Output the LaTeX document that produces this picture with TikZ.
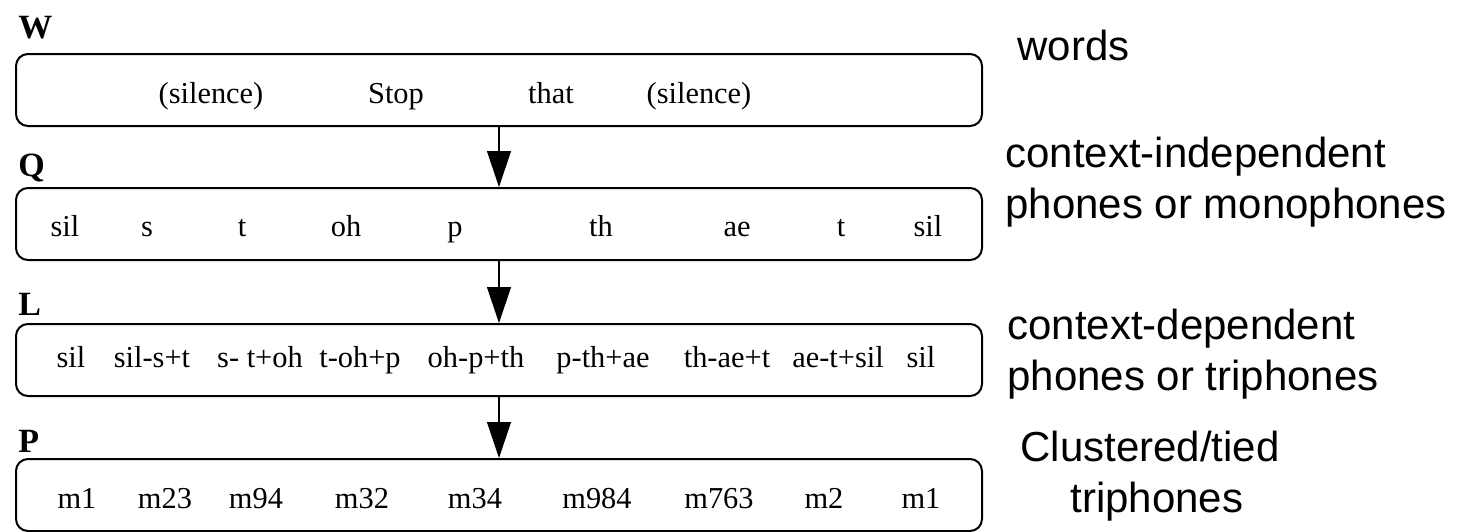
\documentclass[tikz,border=0pt]{standalone}
\usepackage{fontspec}
\setmainfont{Liberation Serif}
\newfontfamily\notefont{Liberation Sans}
\usetikzlibrary{arrows.meta}

\tikzset{
  tierbox/.style={draw, line width=1pt, rounded corners=6pt, minimum width=483pt, minimum height=36pt, inner sep=0pt},
  tiername/.style={font=\fontsize{17}{20}\selectfont\bfseries, anchor=base west, inner sep=0pt},
  token/.style={font=\fontsize{15.2}{18}\selectfont, anchor=base, inner sep=0pt},
  note/.style={font=\notefont\fontsize{21}{25.5}\selectfont, anchor=base west, align=left, inner sep=0pt},
  flow/.style={-{Triangle[length=18pt,width=12pt]}, line width=0.6pt},
}

\begin{document}
\begin{tikzpicture}[x=0.5pt, y=-0.5pt]
  \useasboundingbox (0,0) rectangle (1472,531);

  % tiers
  \node[tierbox] (wbox) at (499,90) {};
  \node[tierbox] (qbox) at (499,224) {};
  \node[tierbox] (lbox) at (499,360) {};
  \node[tierbox] (pbox) at (499,495) {};

  \node[tiername] (wname) at (18,38) {W};
  \node[tiername] (qname) at (18,176) {Q};
  \node[tiername] (lname) at (18,315) {L};
  \node[tiername] (pname) at (18,452) {P};

  % contents of each tier
  \foreach \x/\t [count=\i] in {211/{(silence)}, 396/Stop, 551/that, 699/{(silence)}}
    \node[token] (w\i) at (\x,103) {\t};
  \foreach \x/\t [count=\i] in {65/sil, 147/s, 242/t, 346/oh, 455/p, 601/th, 737/ae, 841/t, 928/sil}
    \node[token] (q\i) at (\x,236) {\t};
  \foreach \x/\t [count=\i] in {71/sil, 152/sil-s+t, 260/s- t+oh, 360/t-oh+p, 476/oh-p+th, 603/p-th+ae, 727/th-ae+t, 838/ae-t+sil, 921/sil}
    \node[token] (l\i) at (\x,367) {\t};
  \foreach \x/\t [count=\i] in {77/m1, 165/m23, 256/m94, 362/m32, 475/m34, 597/m984, 719/m763, 824/m2, 921/m1}
    \node[token] (p\i) at (\x,508) {\t};

  \draw[flow] (wbox.south) -- (qbox.north);
  \draw[flow] (qbox.south) -- (lbox.north);
  \draw[flow] (lbox.south) -- (pbox.north);

  % descriptions (base = last line)
  \node[note] (words) at (1017,60) {words};
  \node[note] (mono) at (1005,218) {context-independent\\phones or monophones};
  \node[note] (tri) at (1007,390) {context-dependent\\phones or triphones};
  \node[note] (tied) at (1020,512) {Clustered/tied\\\hspace*{25pt}triphones};
\end{tikzpicture}
\end{document}
